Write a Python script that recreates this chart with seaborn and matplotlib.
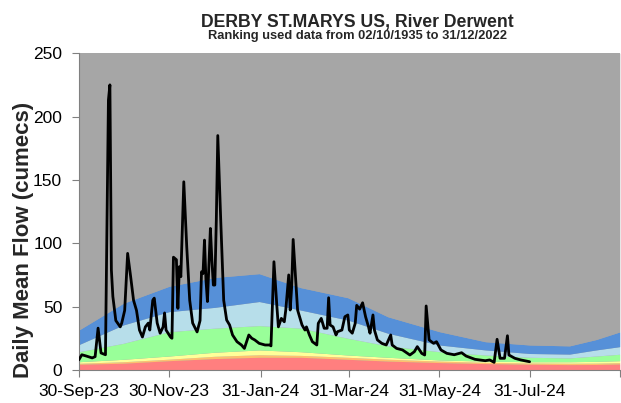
import pandas as pd
import matplotlib
matplotlib.use("Agg")
import matplotlib.pyplot as plt
import seaborn as sns

# ---- data -------------------------------------------------------------
start = pd.Timestamp("2023-09-30")

# daily mean flow, day offsets from 30-Sep-2023 and cumecs
flow_day = [0, 2, 5, 9, 11, 13, 15, 18, 20, 21, 22, 23, 25, 28, 29, 31, 33, 35,
            37, 39, 41, 43, 45, 47, 48, 50, 51, 53, 55, 57, 58, 59, 62, 63, 64,
            66, 67, 68, 69, 71, 73, 75, 77, 80, 82, 83, 84, 85, 86, 87, 89, 90,
            91, 92, 93, 94, 96, 98, 100, 102, 104, 107, 110, 112, 115, 117, 119,
            122, 126, 129, 130, 132, 134, 135, 137, 139, 140, 142, 143, 144, 145,
            147, 148, 151, 153, 154, 156, 158, 161, 162, 164, 166, 168, 169, 170,
            172, 174, 175, 178, 180, 182, 183, 185, 187, 188, 190, 192, 194, 196,
            197, 199, 200, 202, 205, 208, 211, 212, 215, 219, 224, 227, 229, 232,
            234, 235, 237, 240, 242, 245, 249, 254, 259, 262, 268, 275, 278, 281,
            283, 285, 288, 290, 291, 295, 299, 305]
flow_cumecs = [8, 12, 11, 9.5, 10.5, 33, 13.4, 12, 213, 225, 79, 58, 39, 34, 37,
               47, 92, 74, 55, 47, 31.5, 26, 34, 37, 31.5, 55, 56.7, 37, 29, 34,
               45, 31.5, 26, 25, 89, 87, 48.6, 81.5, 73.6, 148.5, 97, 55, 37, 30,
               39, 77.5, 76, 102.5, 71, 54, 111.7, 86.8, 67, 67, 118, 185, 118,
               55, 39.4, 35.5, 27.6, 22.3, 19.7, 17, 27.6, 25, 23.7, 21, 19.7,
               19.7, 19, 85.4, 50, 34, 40.7, 38, 47.3, 75, 47.3, 65.7, 103, 65.7,
               47.3, 35.5, 31.5, 34, 27.6, 22.3, 19.7, 36.8, 40.7, 32.9, 32.9, 57,
               35.5, 34, 27.6, 30.2, 31.5, 42, 43.4, 31.5, 29, 36.8, 51, 48, 53,
               42, 34, 29, 43.4, 31.5, 23.7, 21, 19.7, 27.6, 19.7, 17, 15.8, 11.8,
               14.4, 18.4, 13.1, 11.8, 50.5, 23.7, 21, 22.3, 15.8, 13.1, 12, 13.6,
               11, 8.4, 7.3, 7.9, 6, 24.2, 9.2, 9.2, 27, 11.8, 9.2, 7.9, 6.5]

# ranking band upper limits (cumecs) through the year
band_day = [0, 30, 61, 92, 122, 150, 182, 209, 244, 275, 305, 332, 350, 366]
band_low = [4.5, 5.3, 7.3, 9, 10, 10, 8.4, 7, 5.8, 5, 4.5, 4.2, 4.3, 4.7]
band_below_normal = [5.3, 6.5, 8.5, 10.8, 12, 11.5, 10, 8.5, 7, 6, 5.5, 5.3, 5.4, 5.8]
band_normal_low = [6.5, 8.4, 11, 14, 15.8, 14.4, 11.8, 10, 7.9, 7, 6.5, 6.5, 6.8, 7.3]
band_normal = [14.4, 21, 30.2, 33, 35, 33, 25, 19, 14.4, 11.8, 10, 9.5, 11, 12.4]
band_above_normal = [20, 35.5, 46, 49.4, 54, 47.3, 39.4, 29, 19.7, 15.8, 13, 12.5, 15.8, 18.4]
band_high = [31.5, 52.6, 66, 73, 76, 65, 57, 42, 30.2, 22.3, 19.7, 19, 24, 30]

band_colors = ["#FF7F7F", "#FFBF6F", "#FFFF99", "#99FF99", "#B7DEEA", "#5690D8"]
gray = "#A6A6A6"

tick_dates = ["2023-09-30", "2023-11-30", "2024-01-31", "2024-03-31",
              "2024-05-31", "2024-07-31", "2024-09-30"]
tick_labels = ["30-Sep-23", "30-Nov-23", "31-Jan-24", "31-Mar-24",
               "31-May-24", "31-Jul-24", ""]

title = "DERBY ST.MARYS US, River Derwent"
subtitle = "Ranking used data from 02/10/1935 to 31/12/2022"
ylabel = "Daily Mean Flow (cumecs)"

# ---- figure -----------------------------------------------------------
sns.set_style("ticks")
plt.rcParams["font.family"] = ["Liberation Sans", "DejaVu Sans"]

fig = plt.figure(figsize=(6.21, 4.03), dpi=100)
ax = fig.add_axes([0.127, 0.082, 0.871, 0.786])
ax.set_facecolor(gray)

bands = pd.DataFrame({
    "date": start + pd.to_timedelta(band_day, unit="D"),
    "b0": band_low, "b1": band_below_normal, "b2": band_normal_low,
    "b3": band_normal, "b4": band_above_normal, "b5": band_high,
})
lower = [0] * len(bands)
for i, col in enumerate(["b0", "b1", "b2", "b3", "b4", "b5"]):
    ax.fill_between(bands["date"], lower, bands[col], color=band_colors[i],
                    linewidth=0, zorder=1)
    lower = bands[col]
ax.fill_between(bands["date"], bands["b5"], 250, color=gray, linewidth=0, zorder=1)

flow = pd.DataFrame({
    "date": start + pd.to_timedelta(flow_day, unit="D"),
    "flow": flow_cumecs,
})
sns.lineplot(data=flow, x="date", y="flow", color="black", linewidth=2.0,
             ax=ax, zorder=3)

ax.set_xlim(pd.Timestamp("2023-09-30"), pd.Timestamp("2024-09-30"))
ax.set_ylim(0, 250)
ax.set_yticks([0, 50, 100, 150, 200, 250])
ax.set_xticks(pd.to_datetime(tick_dates))
ax.set_xticklabels(tick_labels)
ax.tick_params(axis="both", labelsize=12.5, length=5, width=0.8,
               color="#808080", labelcolor="black", direction="out")
ax.tick_params(axis="y", pad=7)
ax.tick_params(axis="x", pad=5)
ax.set_xlabel("")
ax.set_ylabel(ylabel, fontsize=16, fontweight="bold")
ax.yaxis.set_label_coords(-0.083, 0.41)

for side in ["top", "right"]:
    ax.spines[side].set_visible(False)
for side in ["left", "bottom"]:
    ax.spines[side].set_color("#808080")
    ax.spines[side].set_linewidth(0.8)

fig.text(0.576, 0.934, title, ha="center", va="baseline",
         fontsize=12.7, fontweight="bold")
fig.text(0.576, 0.903, subtitle, ha="center", va="baseline",
         fontsize=9.3, fontweight="bold")

fig.savefig("out.png", dpi=100)
